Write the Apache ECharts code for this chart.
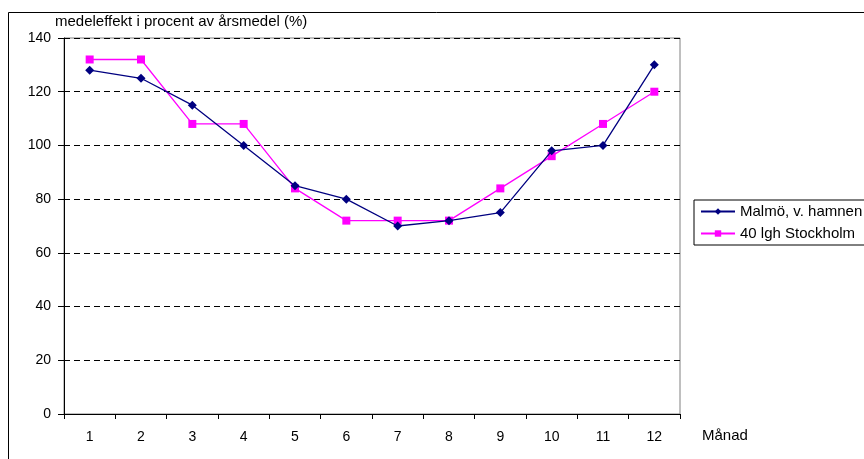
<!DOCTYPE html>
<html>
<head>
<meta charset="utf-8">
<script src="https://cdn.jsdelivr.net/npm/echarts@6/dist/echarts.min.js"></script>
<style>
  html, body { margin: 0; padding: 0; background: #fff; }
  #chart { width: 864px; height: 459px; }
</style>
</head>
<body>
<div id="chart"></div>
<script>
// Monthly mean power as percent of the yearly mean
const months = ['1', '2', '3', '4', '5', '6', '7', '8', '9', '10', '11', '12'];
const malmo = [128, 125, 115, 100, 85, 80, 70, 72, 75, 98, 100, 130];
const stockholm = [132, 132, 108, 108, 84, 72, 72, 72, 84, 96, 108, 120];
const yTicks = [0, 20, 40, 60, 80, 100, 120, 140];

const FONT = 'Liberation Sans, Arial, sans-serif';

const chart = echarts.init(document.getElementById('chart'), null, { renderer: 'canvas' });

chart.setOption({
  animation: false,
  backgroundColor: '#fff',
  textStyle: { fontFamily: FONT, color: '#000' },
  graphic: [
    {
      type: 'rect',
      shape: { x: 8.5, y: 12.5, width: 900, height: 500 },
      style: { fill: 'none', stroke: '#000', lineWidth: 1 },
      z: -1
    },
    {
      type: 'text',
      left: 55, top: 14,
      style: { text: 'medeleffekt i procent av årsmedel (%)', font: '15px ' + FONT, fill: '#000' }
    },
    {
      type: 'text',
      left: 702, top: 428,
      style: { text: 'Månad', font: '15px ' + FONT, fill: '#000' }
    }
  ],
  grid: {
    left: 64, top: 38, width: 616, height: 376,
    show: true, borderColor: '#808080', borderWidth: 1,
    containLabel: false
  },
  legend: {
    orient: 'vertical',
    left: 694, top: 200,
    padding: [4, 40, 4, 6],
    itemGap: 7,
    itemWidth: 34, itemHeight: 8,
    borderColor: '#000', borderWidth: 1,
    backgroundColor: '#fff',
    textStyle: { fontFamily: FONT, fontSize: 15, color: '#000' },
    data: ['Malmö, v. hamnen', '40 lgh Stockholm']
  },
  xAxis: {
    type: 'category',
    data: months,
    boundaryGap: true,
    axisLine: { lineStyle: { color: '#000', width: 1 } },
    axisTick: { show: true, length: 5, lineStyle: { color: '#000' } },
    axisLabel: { color: '#000', fontFamily: FONT, fontSize: 14, margin: 16 },
    splitLine: { show: false }
  },
  yAxis: {
    type: 'value',
    min: yTicks[0], max: yTicks[yTicks.length - 1], interval: 20,
    axisLine: { show: true, lineStyle: { color: '#000', width: 1 } },
    axisTick: { show: true, length: 6, lineStyle: { color: '#000' } },
    axisLabel: { color: '#000', fontFamily: FONT, fontSize: 14, margin: 13 },
    splitLine: { show: true, lineStyle: { color: '#000', type: [6, 4], width: 1 } }
  },
  series: [
    {
      name: 'Malmö, v. hamnen',
      type: 'line',
      data: malmo,
      symbol: 'diamond',
      symbolSize: 9,
      lineStyle: { color: '#000080', width: 1.3 },
      itemStyle: { color: '#000080' },
      z: 3
    },
    {
      name: '40 lgh Stockholm',
      type: 'line',
      data: stockholm,
      symbol: 'rect',
      symbolSize: 8,
      lineStyle: { color: '#FF00FF', width: 1.3 },
      itemStyle: { color: '#FF00FF' },
      z: 2
    }
  ]
});
</script>
</body>
</html>
